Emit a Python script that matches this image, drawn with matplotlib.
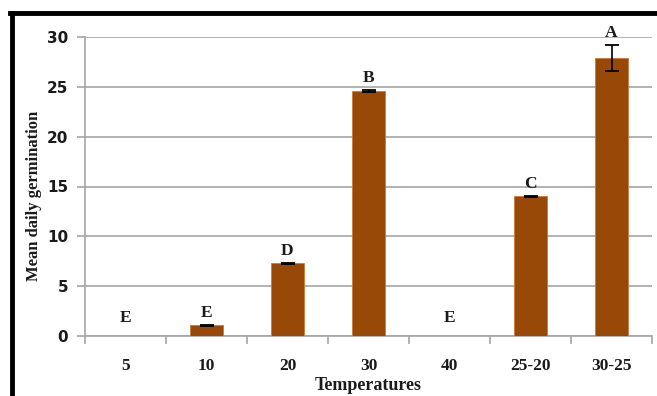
import numpy as np
import matplotlib
matplotlib.use("Agg")
import matplotlib.pyplot as plt
from matplotlib.lines import Line2D

temps = ['5', '10', '20', '30', '40', '25-20', '30-25']
germ = [0, 1.1, 7.3, 24.6, 0, 14.0, 27.9]
err = [0, 0.05, 0.05, 0.1, 0, 0.02, 1.3]
letters = ['E', 'E', 'D', 'B', 'E', 'C', 'A']
yticks = [0, 5, 10, 15, 20, 25, 30]

serif = 'Liberation Serif'
txt = '#1a1a1a'
grid_c = '#a6a6a6'

fig = plt.figure(figsize=(6.57, 3.96), dpi=100)
ax = fig.add_axes([85/657, 60/396, 567/657, 299/396])

x = np.arange(len(temps))
ax.bar(x, germ, width=0.41, color='#984807', edgecolor='#c87a3a', linewidth=0.6, zorder=3)
show = [i for i in x if germ[i] > 0]
ax.errorbar(x[show], np.array(germ)[show], yerr=np.array(err)[show], fmt='none',
            ecolor='black', elinewidth=1.2, capsize=5, capthick=1.3, zorder=4)

for i, lab in enumerate(letters):
    top = germ[i] + err[i]
    if germ[i] == 0:
        top = 0.6
    ax.text(i, top + 0.4, lab, ha='center', va='bottom', fontsize=12.5,
            fontweight='bold', family=serif, color=txt)

ax.set_xlim(-0.5, len(temps) - 0.5)
ax.set_ylim(0, 30)
ax.set_yticks(yticks)
ax.yaxis.grid(True, color=grid_c, linewidth=1.2, zorder=0)
ax.set_axisbelow(True)

for s in ['top', 'right']:
    ax.spines[s].set_visible(False)
for s in ['left', 'bottom']:
    ax.spines[s].set_color(grid_c)
    ax.spines[s].set_linewidth(1.2)

ax.set_xticks(np.arange(len(temps) + 1) - 0.5, minor=False)
ax.set_xticklabels([])
ax.set_xticks(x, minor=True)
ax.set_xticklabels(temps, minor=True, fontsize=12.5, fontweight='bold', family=serif, color=txt)
ax.tick_params(axis='x', which='major', length=6, color=grid_c, width=1.2)
ax.tick_params(axis='x', which='minor', length=0, pad=16)
ax.tick_params(axis='y', length=6, color=grid_c, width=1.2, pad=6)
for t in ax.get_yticklabels():
    t.set_fontweight('bold')
    t.set_fontsize(11)
    t.set_color(txt)

ax.set_xlabel('Temperatures', fontsize=13, fontweight='bold', family=serif, color=txt, labelpad=2)
ax.set_ylabel('Mean daily germination', fontsize=12, fontweight='bold', family=serif, color=txt)
ax.yaxis.set_label_coords(-0.076, 0.47)

# frame around the chart (cut off at right and bottom)
fig.add_artist(Line2D([11.5/657, 11.5/657], [0, (396-13)/396], transform=fig.transFigure,
                      color='black', linewidth=3.5))
fig.add_artist(Line2D([9.8/657, 1], [(396-13)/396, (396-13)/396], transform=fig.transFigure,
                      color='black', linewidth=3.5))

plt.savefig('out.png', dpi=100)
